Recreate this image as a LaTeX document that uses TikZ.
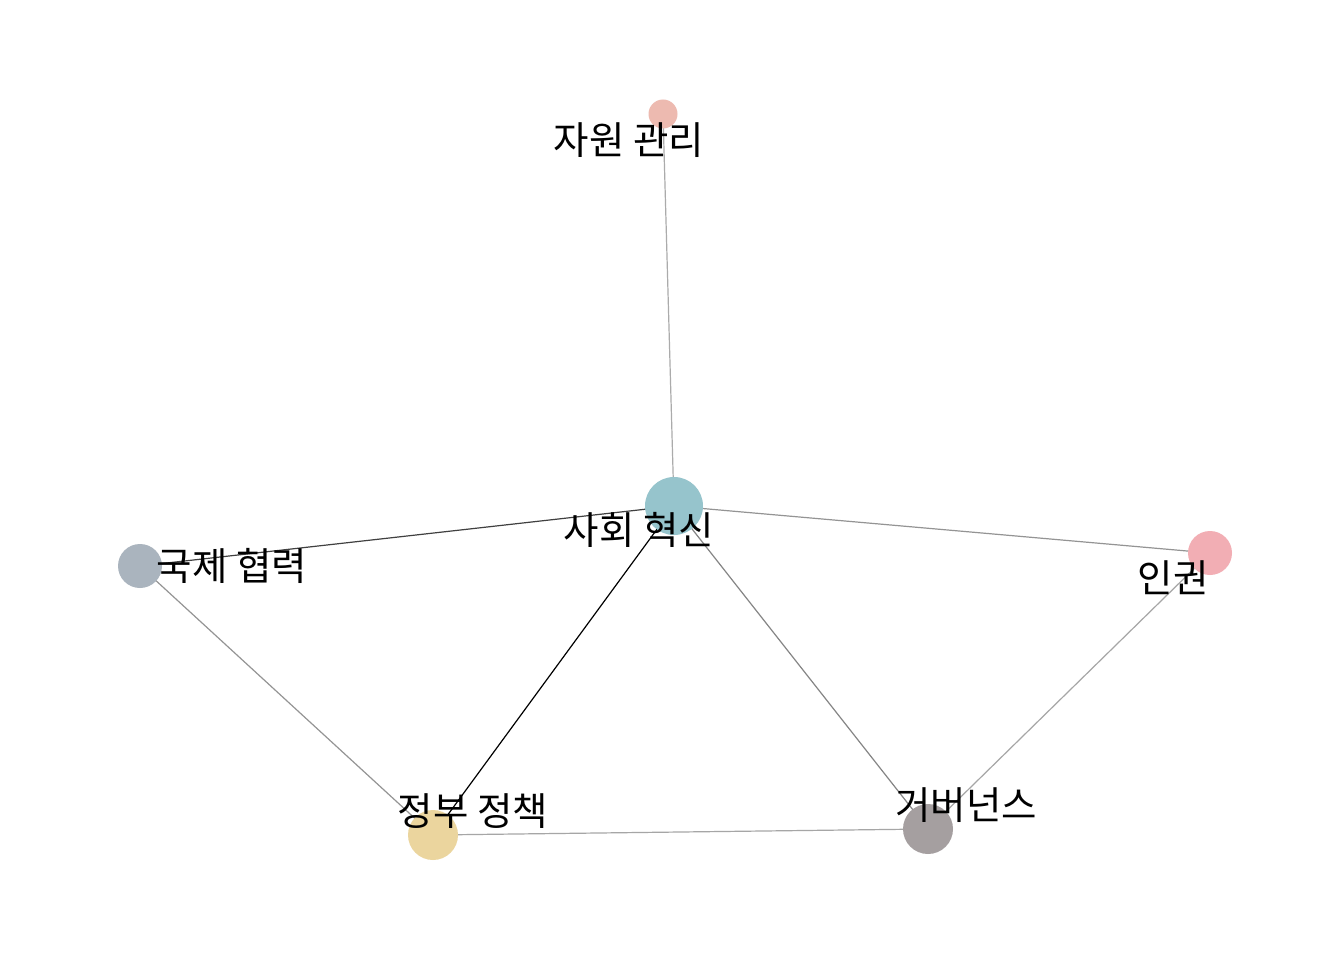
\documentclass[tikz,border=0pt]{standalone}
\usepackage{fontspec}
\newfontfamily\kr{Noto Sans CJK KR}
\definecolor{cA}{HTML}{EDBAB0}
\definecolor{cB}{HTML}{96C4CC}
\definecolor{cC}{HTML}{AAB4BE}
\definecolor{cD}{HTML}{F2AEB4}
\definecolor{cE}{HTML}{EBD59E}
\definecolor{cF}{HTML}{A59FA0}
\begin{document}
\begin{tikzpicture}[x=1pt,y=-1pt,
  vert/.style={circle,inner sep=0pt,draw=none},
  lab/.style={font=\kr\fontsize{38.5}{44}\selectfont,text=black,inner sep=0pt},
  edge/.style={line width=1.2pt}]
\useasboundingbox[fill=white] (0,0) rectangle (1344,960);
% edges first
\coordinate (pA) at (663,114);
\coordinate (pB) at (674,506);
\coordinate (pC) at (140,566);
\coordinate (pD) at (1210,553);
\coordinate (pE) at (433,835);
\coordinate (pF) at (928,829);
\draw[edge,color=black!33] (pB) -- (pA);
\draw[edge,color=black!75] (pB) -- (pC);
\draw[edge,color=black!42] (pB) -- (pD);
\draw[edge,color=black] (pB) -- (pE);
\draw[edge,color=black!48] (pB) -- (pF);
\draw[edge,color=black!42] (pC) -- (pE);
\draw[edge,color=black!35] (pE) -- (pF);
\draw[edge,color=black!35] (pF) -- (pD);
% nodes
\node[vert,fill=cA,minimum size=29pt] (A) at (pA) {};
\node[vert,fill=cB,minimum size=58pt] (B) at (pB) {};
\node[vert,fill=cC,minimum size=44pt] (C) at (pC) {};
\node[vert,fill=cD,minimum size=44pt] (D) at (pD) {};
\node[vert,fill=cE,minimum size=50pt] (E) at (pE) {};
\node[vert,fill=cF,minimum size=50pt] (F) at (pF) {};
% labels
\node[lab] (lA) at (629,140) {자원 관리};
\node[lab] (lB) at (639,530) {사회 혁신};
\node[lab] (lC) at (232,566) {국제 협력};
\node[lab] (lD) at (1173,578) {인권};
\node[lab] (lE) at (473,811) {정부 정책};
\node[lab] (lF) at (966,805) {거버넌스};
\end{tikzpicture}
\end{document}
